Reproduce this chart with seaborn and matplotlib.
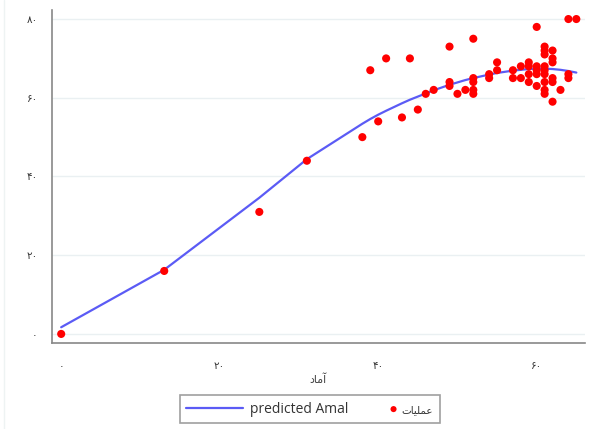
import matplotlib
matplotlib.use("Agg")
import matplotlib.pyplot as plt
from matplotlib.legend_handler import HandlerPathCollection
from matplotlib.lines import Line2D
import seaborn as sns
import pandas as pd

# observed points (آماد, عملیات)
obs_x = [0, 13, 25, 31,
         38, 39, 40, 41, 43, 44, 45, 46, 47,
         49, 49, 49, 50, 51,
         52, 52, 52, 52, 52,
         54, 54, 55, 55, 57, 57, 58, 58,
         59, 59, 59, 59,
         60, 60, 60, 60, 60,
         61, 61, 61, 61, 61, 61, 61, 61, 61,
         62, 62, 62, 62, 62, 62,
         63, 64, 64, 64, 65]
obs_y = [0, 16, 31, 44,
         50, 67, 54, 70, 55, 70, 57, 61, 62,
         73, 64, 63, 61, 62,
         75, 65, 64, 62, 61,
         66, 65, 69, 67, 67, 65, 68, 65,
         69, 68, 66, 64,
         78, 68, 67, 66, 63,
         73, 72, 71, 68, 67, 66, 64, 62, 61,
         72, 70, 69, 65, 64, 59,
         62, 66, 65, 80, 80]

# predicted values at each distinct x
pred_x = [0, 13, 25, 31, 38, 39, 40, 41, 43, 44, 45, 46, 47, 49, 50, 51, 52,
          54, 55, 57, 58, 59, 60, 61, 62, 63, 64, 65]
pred_y = [1.7, 16.3, 34.6, 44.4, 53.4, 54.6, 55.7, 56.7, 58.6, 59.5, 60.3, 61.1,
          61.9, 63.3, 63.9, 64.5, 65.0, 65.9, 66.3, 66.9, 67.1, 67.3, 67.4,
          67.4, 67.3, 67.1, 66.8, 66.4]

yticks = [0, 20, 40, 60, 80]
xticks = [0, 20, 40, 60]
ytick_labels = ["۰", "۲۰", "۴۰", "۶۰", "۸۰"]
xtick_labels = ["۰", "۲۰", "۴۰", "۶۰"]
# Persian text written with Arabic presentation forms in display order
# (matplotlib has no Arabic shaping / bidi): "آماد" and "عملیات"
x_label = "\uFEA9\uFE8E\uFEE3\uFE81"
line_label = "predicted Amal"
point_label = "\uFE95\uFE8E\uFEF4\uFEE0\uFEE4\uFECB"

sns.set_theme(style="white")
plt.rcParams['font.family'] = ['Open Sans', 'DejaVu Sans']

fig = plt.figure(figsize=(5.9, 4.29), dpi=100)
ax = fig.add_axes([0.0876, 0.2005, 0.904, 0.7762])

df_obs = pd.DataFrame({"x": obs_x, "y": obs_y})
df_pred = pd.DataFrame({"x": pred_x, "y": pred_y})

sns.lineplot(data=df_pred, x="x", y="y", ax=ax, color="#5b5bf5", linewidth=1.6,
             label=line_label, estimator=None, sort=True)
sns.scatterplot(data=df_obs, x="x", y="y", ax=ax, color="#ff0000", s=34,
                edgecolor="none", label=point_label, zorder=3)

ax.set_xlim(-1.2, 66.1)
ax.set_ylim(-2.3, 82.3)
ax.set_yticks(yticks)
ax.set_yticklabels(ytick_labels, family=['DejaVu Sans'])
ax.set_xticks(xticks)
ax.set_xticklabels(xtick_labels, family=['DejaVu Sans'])
ax.set_xlabel(x_label, fontsize=8, color="#444444", family=['DejaVu Sans'], labelpad=2)
ax.set_ylabel("")

for side in ["top", "right"]:
    ax.spines[side].set_visible(False)
for side in ["left", "bottom"]:
    ax.spines[side].set_color("#888888")
    ax.spines[side].set_linewidth(1.2)

ax.tick_params(axis="both", direction="out", length=5, width=1, color="#888888",
               labelsize=7.5, labelcolor="#333333", pad=5)
ax.tick_params(axis="x", pad=8)
ax.yaxis.grid(True, color="#eaf0f2", linewidth=1)
ax.xaxis.grid(False)
ax.set_axisbelow(True)

# faint outer frame line on the left of the graph region
fig.add_artist(Line2D([4 / 590, 4 / 590], [0, 1], transform=fig.transFigure,
                      color="#eef3f3", linewidth=1))


class RightMarkerHandler(HandlerPathCollection):
    def get_xdata(self, legend, xdescent, ydescent, width, height, fontsize):
        xdata, _ = super().get_xdata(legend, xdescent, ydescent, width, height, fontsize)
        return xdata, [-xdescent + width - 0.1 * fontsize]


ax.legend_.remove()
handles, labels = ax.get_legend_handles_labels()
leg = fig.legend(handles, labels, loc="lower center", bbox_to_anchor=(0.525, 0.014),
                 ncol=2, frameon=True, fancybox=False, edgecolor="#888888",
                 fontsize=10, handlelength=4.1, columnspacing=-0.75,
                 handletextpad=0.5, borderpad=0.45, borderaxespad=0,
                 markerscale=0.75,
                 handler_map={handles[1]: RightMarkerHandler(numpoints=1)})
leg.get_frame().set_linewidth(1.2)
for t in leg.get_texts():
    t.set_color("#333333")
leg.get_texts()[1].set_fontsize(7.5)

fig.savefig("out.png", dpi=100)
